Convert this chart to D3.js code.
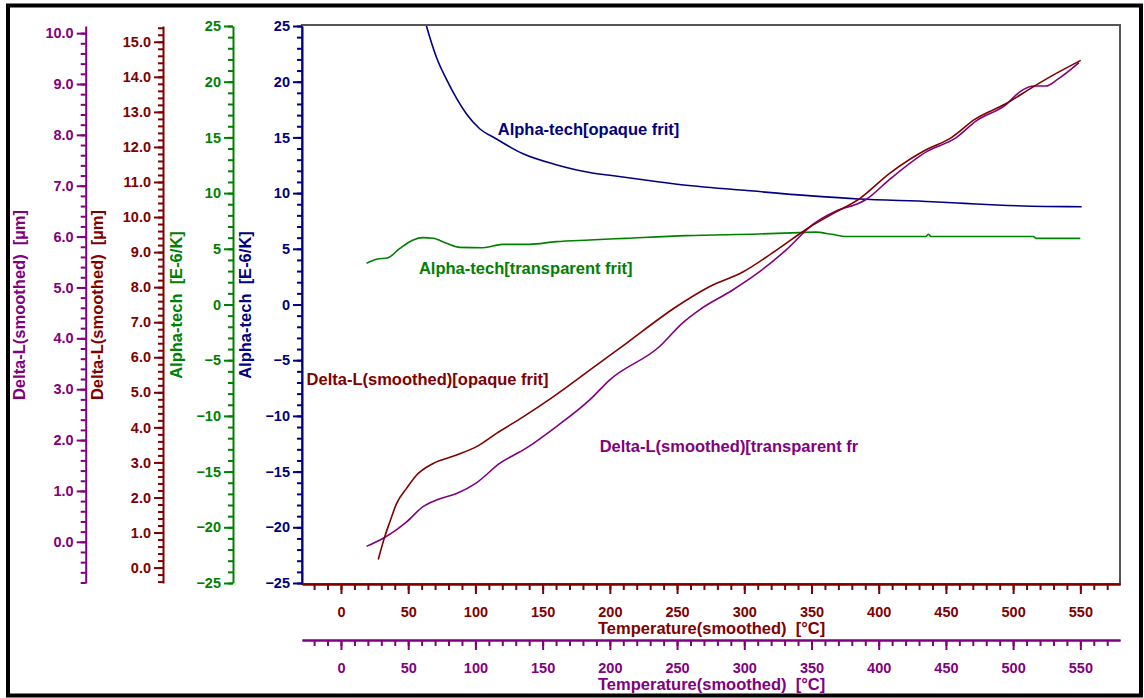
<!DOCTYPE html>
<html>
<head>
<meta charset="utf-8">
<script src="https://cdn.jsdelivr.net/npm/d3@7"></script>
<style>
  body { margin: 0; background: #fff; }
  svg { display: block; font-family: "Liberation Sans", Arial, sans-serif; font-weight: bold; }
</style>
</head>
<body>
<svg id="dilSvg" width="1144" height="698"></svg>
<script>
// temperature [°C], value
const alphaOpaque = [[58, 27.6], [63.6, 25.0], [71, 22.2], [78.5, 20.2], [86, 18.5], [93.4, 17.1], [103, 15.8], [115, 14.9],
    [135, 13.55], [160, 12.55], [185, 11.85], [200, 11.6], [237, 11.0], [250, 10.8], [300, 10.25], [350, 9.75],
    [385, 9.47], [440, 9.23], [464, 9.08], [488, 8.93], [524, 8.8], [551, 8.78]];

const alphaTransparent = [[19, 3.7], [26.5, 4.06], [35, 4.2], [43.8, 5.04], [53.7, 5.8], [61, 6.0], [68.6, 5.94], [78.5, 5.5],
    [88.4, 5.13], [105.7, 5.1], [120, 5.4], [140, 5.4], [160, 5.64], [185, 5.79], [212, 5.94], [257, 6.18], [311, 6.33],
    [341, 6.45], [353, 6.5], [365, 6.3], [376, 6.1], [435, 6.1], [437, 6.3], [439, 6.1], [515, 6.1], [517, 5.94], [550, 5.94]];

const deltaOpaque = [[27.7, 0.23], [32.7, 0.90], [36.4, 1.31], [41.4, 1.83], [48.8, 2.26], [56.3, 2.64], [68.6, 2.97], [86, 3.21],
    [100.8, 3.45], [115.7, 3.83], [135.5, 4.30], [157.8, 4.87], [185, 5.63], [212, 6.39], [249.4, 7.44], [274, 8.01],
    [298.9, 8.43], [323.7, 9.05], [348.5, 9.71], [368, 10.14], [385.6, 10.52], [407.9, 11.24], [436.3, 11.94], [452.5, 12.23],
    [472, 12.80], [494.5, 13.23], [514.3, 13.70], [531.7, 14.09], [550.3, 14.47]];

const deltaTransparent = [[19, -0.09], [32.7, 0.09], [41.4, 0.24], [48.8, 0.39], [61, 0.69], [71, 0.82], [86, 0.95], [100.8, 1.16],
    [118, 1.54], [137.8, 1.84], [160, 2.26], [185, 2.79], [199.8, 3.18], [237, 3.84], [254, 4.30], [266.7, 4.56], [291.4, 4.95],
    [311.4, 5.31], [331.2, 5.74], [351, 6.24], [368, 6.50], [385.6, 6.66], [390.6, 6.73], [407.9, 7.12], [436.3, 7.68],
    [457.4, 7.94], [472.3, 8.27], [494.5, 8.59], [505.7, 8.86], [515.6, 8.96], [524.3, 8.96], [533, 9.09], [549, 9.42]];

const tempTicks = [0, 50, 100, 150, 200, 250, 300, 350, 400, 450, 500, 550];
const alphaTicks = [-25, -20, -15, -10, -5, 0, 5, 10, 15, 20, 25];
const opaqueDeltaTicks = [0, 1, 2, 3, 4, 5, 6, 7, 8, 9, 10, 11, 12, 13, 14, 15];
const transpDeltaTicks = [0, 1, 2, 3, 4, 5, 6, 7, 8, 9, 10];

const svg = d3.select("#dilSvg");
const plot = { left: 302, right: 1120, top: 26, bottom: 584 };

const navy = "#000080", green = "#008000", maroon = "#800000", purple = "#800080";

function createScales() {
    const xScale = d3.scaleLinear().domain([-29, 579.5]).range([plot.left, plot.right]);
    const yAlpha = d3.scaleLinear().domain([-25, 25]).range([583, plot.top]);
    const yOpaque = d3.scaleLinear().domain([-0.44, 15.45]).range([583, plot.top]);
    const yTransp = d3.scaleLinear().domain([-0.81, 10.14]).range([583, plot.top]);
    return { xScale, yAlpha, yOpaque, yTransp };
}

function styleAxis(g, color) {
    g.selectAll("line").attr("stroke", color).attr("stroke-width", 2);
    g.selectAll("path").attr("stroke", color).attr("stroke-width", 2);
    g.selectAll("text").attr("fill", color).style("font-size", "14.5px").style("font-family", "Liberation Sans, Arial, sans-serif").style("font-weight", "bold");
}

function renderYAxis(x, scale, majors, minors, fmt, color, title, titleX) {
    const g = svg.append("g").attr("transform", `translate(${x},0)`);
    g.append("g").call(d3.axisLeft(scale).tickValues(minors).tickSize(5).tickSizeOuter(0).tickFormat(""))
        .call(a => a.select(".domain").remove());
    g.append("g").call(d3.axisLeft(scale).tickValues(majors).tickSize(9).tickPadding(3).tickSizeOuter(0).tickFormat(fmt));
    styleAxis(g, color);

    svg.append("text")
        .attr("transform", `translate(${titleX},305) rotate(-90)`)
        .attr("text-anchor", "middle")
        .attr("dy", "0.35em")
        .attr("fill", color)
        .style("font-size", "16.5px")
        .style("white-space", "pre")
        .text(title);
}

function renderXAxis(y, scale, color) {
    const g = svg.append("g").attr("transform", `translate(0,${y})`);
    g.append("g").call(d3.axisBottom(scale).tickValues(d3.range(-20, 580, 10)).tickSize(6).tickSizeOuter(0).tickFormat(""));
    g.append("g").call(d3.axisBottom(scale).tickValues(tempTicks).tickSize(10).tickPadding(13).tickSizeOuter(0).tickFormat(d3.format("d")));
    styleAxis(g, color);

    svg.append("text")
        .attr("x", 598)
        .attr("y", y + 44)
        .attr("dy", "0.35em")
        .attr("fill", color)
        .style("font-size", "16.5px")
        .style("white-space", "pre")
        .text("Temperature(smoothed)  [°C]");
}

function render() {
    const { xScale, yAlpha, yOpaque, yTransp } = createScales();

    // outer frame
    svg.append("rect")
        .attr("x", 8).attr("y", 5.5).attr("width", 1133).attr("height", 690)
        .attr("fill", "none").attr("stroke", "#000").attr("stroke-width", 4);

    // plot box
    svg.append("rect")
        .attr("x", plot.left).attr("y", plot.top - 1)
        .attr("width", plot.right - plot.left).attr("height", plot.bottom - plot.top + 1)
        .attr("fill", "#fff").attr("stroke", "#555").attr("stroke-width", 2);

    svg.append("clipPath").attr("id", "plotClip")
        .append("rect")
        .attr("x", plot.left).attr("y", plot.top)
        .attr("width", plot.right - plot.left).attr("height", plot.bottom - plot.top);

    const curves = svg.append("g").attr("clip-path", "url(#plotClip)");
    const series = [
        { data: alphaOpaque, y: yAlpha, color: navy },
        { data: alphaTransparent, y: yAlpha, color: green },
        { data: deltaTransparent, y: yTransp, color: purple },
        { data: deltaOpaque, y: yOpaque, color: maroon }
    ];
    series.forEach(s => {
        curves.append("path")
            .datum(s.data)
            .attr("fill", "none")
            .attr("stroke", s.color)
            .attr("stroke-width", 1.6)
            .attr("d", d3.line().curve(d3.curveMonotoneX).x(d => xScale(d[0])).y(d => s.y(d[1])));
    });

    // series labels (placed in temperature / alpha units)
    const labels = [
        { text: "Alpha-tech[opaque frit]", t: 116.6, v: 15.75, color: navy },
        { text: "Alpha-tech[transparent frit]", t: 58, v: 3.28, color: green },
        { text: "Delta-L(smoothed)[opaque frit]", t: -25.6, v: -6.69, color: maroon },
        { text: "Delta-L(smoothed)[transparent fr", t: 192.4, v: -12.7, color: purple }
    ];
    svg.selectAll(".seriesLabel")
        .data(labels)
        .enter()
        .append("text")
        .attr("class", "seriesLabel")
        .attr("x", d => xScale(d.t))
        .attr("y", d => yAlpha(d.v))
        .attr("dy", "0.35em")
        .attr("fill", d => d.color)
        .style("font-size", "16.5px")
        .text(d => d.text);

    const f1 = d3.format(".1f");
    renderYAxis(85.7, yTransp, transpDeltaTicks, d3.range(-0.8, 10.01, 0.2), f1, purple, "Delta-L(smoothed)  [µm]", 19);
    renderYAxis(163, yOpaque, opaqueDeltaTicks, d3.range(-0.4, 15.41, 0.2), f1, maroon, "Delta-L(smoothed)  [µm]", 97);
    renderYAxis(233, yAlpha, alphaTicks, d3.range(-25, 25.01, 1), d3.format("d"), green, "Alpha-tech  [E-6/K]", 176);
    renderYAxis(302, yAlpha, alphaTicks, d3.range(-25, 25.01, 1), d3.format("d"), navy, "Alpha-tech  [E-6/K]", 245);

    renderXAxis(584, xScale, maroon);
    renderXAxis(640, xScale, purple);
}

render();
</script>
</body>
</html>
